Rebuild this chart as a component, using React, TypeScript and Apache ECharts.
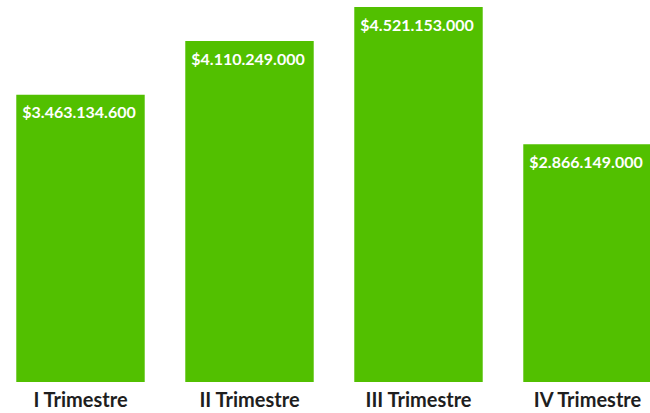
import React, { useEffect, useRef } from "react";
import * as echarts from "echarts";

const categories = ["I Trimestre", "II Trimestre", "III Trimestre", "IV Trimestre"];
const values = [3463134600, 4110249000, 4521153000, 2866149000];

function fmt(v: number): string {
  const s = Math.round(v).toString();
  return "$" + s.replace(/\B(?=(\d{3})+(?!\d))/g, ".");
}

export default function App() {
  const ref = useRef<HTMLDivElement>(null);
  useEffect(() => {
    if (!ref.current) return;
    const chart = echarts.init(ref.current, null, { renderer: "svg" });
    chart.setOption({
      animation: false,
      grid: { left: 0, right: 0, top: 7, bottom: 31, containLabel: false },
      xAxis: {
        type: "category",
        data: categories,
        axisLine: { show: false },
        axisTick: { show: false },
        axisLabel: {
          color: "#1e1e1e",
          fontFamily: "Lato",
          fontWeight: "bold",
          fontSize: 20,
          margin: 7,
        },
      },
      yAxis: {
        type: "value",
        min: 0,
        max: "dataMax",
        show: false,
        splitLine: { show: false },
      },
      series: [
        {
          type: "bar",
          data: values,
          barWidth: "76%",
          itemStyle: { color: "#52c000" },
          label: {
            show: true,
            position: [6, 9],
            color: "#ffffff",
            fontFamily: "Lato",
            fontWeight: "bold",
            fontSize: 16,
            formatter: (p: any) => fmt(p.value),
          },
        },
      ],
    });
    return () => chart.dispose();
  }, []);
  return (
    <div
      style={{
        position: "fixed",
        left: 0,
        top: 0,
        width: 650,
        height: 413,
        overflow: "hidden",
        background: "#ffffff",
      }}
    >
      <div
        ref={ref}
        style={{ position: "absolute", left: -4.5, top: 0, width: 676, height: 413 }}
      />
    </div>
  );
}
